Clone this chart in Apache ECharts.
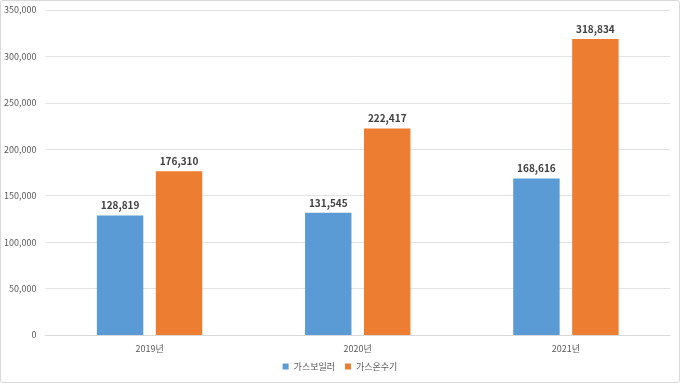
<!DOCTYPE html>
<html><head><meta charset="utf-8">
<script src="https://cdn.jsdelivr.net/npm/echarts@6/dist/echarts.min.js"></script>
<style>html,body{margin:0;padding:0;background:#fff}#c{width:680px;height:383px;box-sizing:border-box;border:1px solid #d9d9d9;border-radius:3px}</style>
</head><body><div id="c"></div>
<script>
const categories = ['2019년', '2020년', '2021년'];
const seriesNames = ['가스보일러', '가스온수기'];
const boiler = [128819, 131545, 168616];
const heater = [176310, 222417, 318834];
const colors = ['#5B9BD5', '#ED7D31'];
const font = '"Noto Sans CJK KR", "Noto Sans", sans-serif';
const chart = echarts.init(document.getElementById('c'), null, {renderer: 'canvas'});
const lbl = {show: true, position: 'top', distance: 5, fontFamily: font, fontSize: 10, fontWeight: 'bold', color: '#404040',
  formatter: p => p.value.toLocaleString('en-US')};
chart.setOption({
  animation: false,
  textStyle: {fontFamily: font},
  grid: {left: 40, right: 9, top: 9, bottom: 47},
  legend: {bottom: 6, left: 'center', itemWidth: 6, itemHeight: 6, itemGap: 10, icon: 'rect',
    textStyle: {fontFamily: font, fontSize: 9, color: '#595959'}},
  xAxis: {type: 'category', data: categories,
    axisLine: {lineStyle: {color: '#d9d9d9'}}, axisTick: {show: false},
    axisLabel: {fontFamily: font, fontSize: 9, color: '#595959', margin: 9}},
  yAxis: {type: 'value', min: 0, max: 350000, interval: 50000,
    axisLine: {show: false}, axisTick: {show: false},
    splitLine: {lineStyle: {color: '#e3e3e3'}},
    axisLabel: {fontFamily: font, fontSize: 9, color: '#595959', margin: 9,
      formatter: v => v.toLocaleString('en-US')}},
  series: [
    {name: seriesNames[0], type: 'bar', data: boiler, barWidth: '22.3%', barGap: '27%',
      itemStyle: {color: colors[0]}, label: lbl},
    {name: seriesNames[1], type: 'bar', data: heater, barWidth: '22.3%',
      itemStyle: {color: colors[1]}, label: lbl}
  ]
});
</script></body></html>
